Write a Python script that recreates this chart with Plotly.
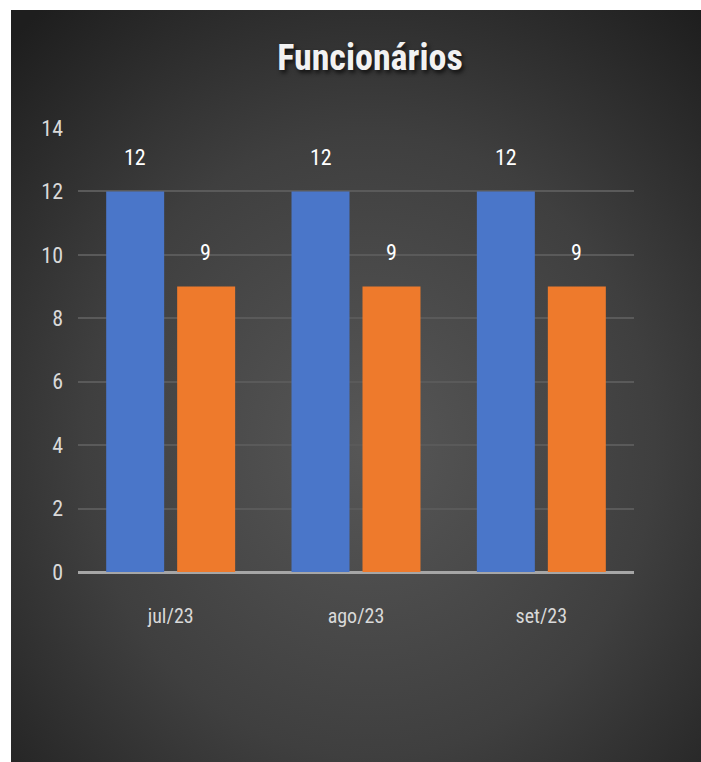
import base64
import plotly.graph_objects as go

categories = ["jul/23", "ago/23", "set/23"]
series_a = [12, 12, 12]
series_b = [9, 9, 9]
y_ticks = [0, 2, 4, 6, 8, 10, 12, 14]

W, H = 701, 762
L, R, T, B = 78, 67, 128, 190
FONT = "Liberation Sans Narrow, Arial Narrow, Roboto Condensed, sans-serif"

svg = (
    "<svg xmlns='http://www.w3.org/2000/svg' width='690' height='752' viewBox='0 0 690 752' "
    "preserveAspectRatio='none'>"
    "<defs><radialGradient id='g' cx='52%' cy='58%' r='75%'>"
    "<stop offset='0' stop-color='#575757'/>"
    "<stop offset='0.55' stop-color='#3f3f3f'/>"
    "<stop offset='1' stop-color='#1e1e1e'/>"
    "</radialGradient></defs>"
    "<rect width='690' height='752' fill='url(#g)'/></svg>"
)
src = "data:image/svg+xml;base64," + base64.b64encode(svg.encode()).decode()

pw, ph = W - L - R, H - T - B

fig = go.Figure()
fig.add_trace(go.Bar(x=categories, y=series_a, marker=dict(color="#4a76c9", line=dict(width=0)),
                     showlegend=False, hoverinfo="skip"))
fig.add_trace(go.Bar(x=categories, y=series_b, marker=dict(color="#ee7a2c", line=dict(width=0)),
                     showlegend=False, hoverinfo="skip"))

ann = []
for i, c in enumerate(categories):
    for v, off in ((series_a[i], -0.19), (series_b[i], 0.19)):
        ann.append(dict(x=i + off, y=v, xref="x", yref="y", text=str(v), showarrow=False,
                        yshift=34, font=dict(family=FONT, size=22, color="#ffffff")))

fig.update_layout(
    width=W, height=H,
    margin=dict(l=L, r=R, t=T, b=B),
    paper_bgcolor="#ffffff",
    plot_bgcolor="rgba(0,0,0,0)",
    barmode="group", bargap=0.234, bargroupgap=0.183,
    title=dict(text="<b>Funcionários</b>", x=370 / W, xanchor="center", y=1 - 57 / H, yanchor="middle",
               yref="container",
               font=dict(family=FONT, size=36, color="#f2f2f2", shadow="2px 3px 4px rgba(0,0,0,0.7)")),
    images=[dict(source=src, xref="paper", yref="paper",
                 x=(11 - L) / pw, y=(H - B - 10) / ph,
                 sizex=(W - 11) / pw, sizey=(H - 10) / ph,
                 xanchor="left", yanchor="top", sizing="stretch", layer="below")],
    annotations=ann,
    xaxis=dict(showgrid=False, showline=False, ticks="", ticklabelstandoff=30,
               tickfont=dict(family=FONT, size=20, color="#d9d9d9"), zeroline=False),
    yaxis=dict(range=[0, 14], tickvals=y_ticks, showgrid=True, gridcolor="#5a5a5a", gridwidth=2,
               zeroline=True, zerolinecolor="#a6a6a6", zerolinewidth=3, showline=False,
               ticklabelstandoff=14,
               tickfont=dict(family=FONT, size=22, color="#d9d9d9")),
)

fig.write_html("out.html", config={"displayModeBar": False},
               post_script="document.body.style.margin='0';")
